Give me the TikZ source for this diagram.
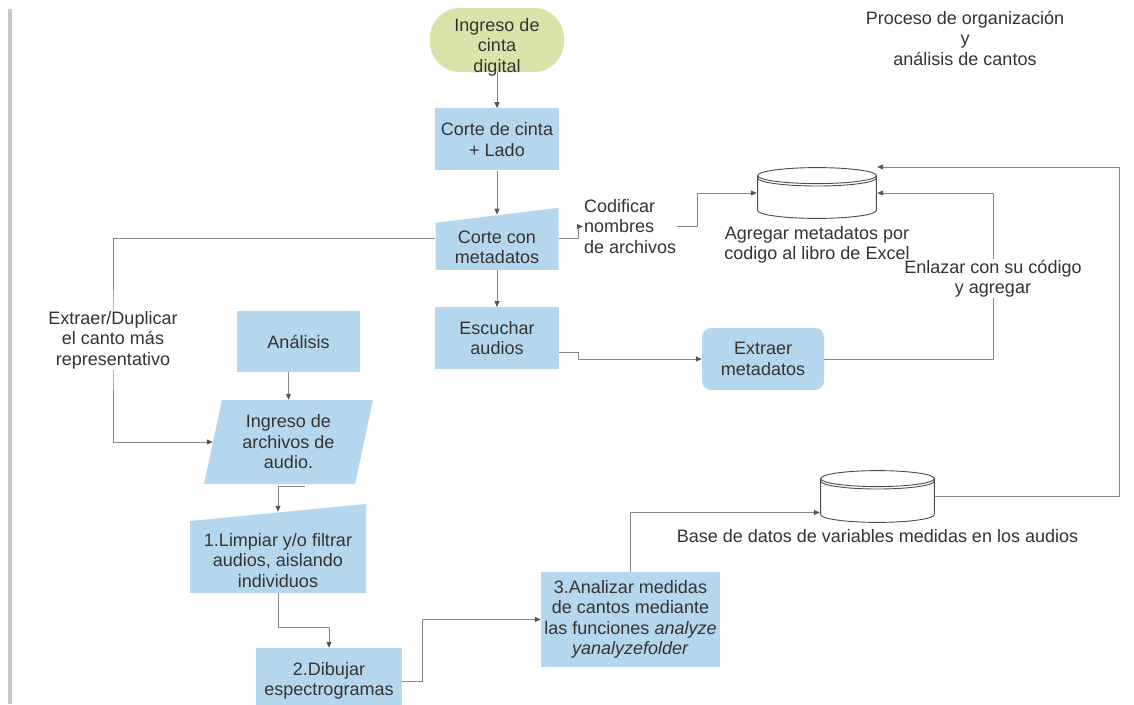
\documentclass[tikz,border=0pt]{standalone}
\usepackage{fontspec}
\setmainfont{Liberation Sans}
\setsansfont{Liberation Sans}
\usetikzlibrary{positioning, arrows.meta, backgrounds}

\definecolor{boxblue}{RGB}{180,215,238}
\definecolor{startgreen}{RGB}{217,228,170}
\definecolor{textgray}{RGB}{55,50,50}
\definecolor{linegray}{RGB}{135,135,135}
\definecolor{tipgray}{RGB}{85,85,85}
\definecolor{bargray}{RGB}{200,200,200}

\begin{document}
\begin{tikzpicture}[
  x=1pt, y=-1pt,
  font=\sffamily\fontsize{18}{20.5}\selectfont,
  text=textgray,
  box/.style={fill=boxblue, minimum width=123pt, minimum height=62pt, align=center, inner sep=0pt},
  startbox/.style={box, fill=startgreen, minimum width=134pt, minimum height=64pt, rounded corners=30pt},
  manualin/.style={box, fill=none, path picture={
    \fill[boxblue] (path picture bounding box.south west) -- (path picture bounding box.south east)
      -- (path picture bounding box.north east) -- ([yshift=-#1]path picture bounding box.north west) -- cycle;}},
  datain/.style={box, fill=none, path picture={
    \fill[boxblue] (path picture bounding box.south west) -- ([xshift=-#1]path picture bounding box.south east)
      -- (path picture bounding box.north east) -- ([xshift=#1]path picture bounding box.north west) -- cycle;}},
  dbline/.style={draw=black!70, line width=0.9pt},
  database/.style={minimum width=#1, minimum height=52pt, inner sep=0pt, path picture={
    \draw[dbline, fill=white] ([shift={(0.6pt,-8.6pt)}]path picture bounding box.north west)
      -- ([shift={(0.6pt,8.6pt)}]path picture bounding box.south west)
      arc[start angle=180, end angle=360, x radius=0.5*#1-0.6pt, y radius=8pt]
      -- ([shift={(-0.6pt,-8.6pt)}]path picture bounding box.north east)
      arc[start angle=0, end angle=180, x radius=0.5*#1-0.6pt, y radius=8pt] -- cycle;
    \draw[dbline] ([shift={(0.6pt,-8.6pt)}]path picture bounding box.north west)
      arc[start angle=180, end angle=360, x radius=0.5*#1-0.6pt, y radius=8pt];
    \draw[dbline] ([shift={(0.6pt,-11pt)}]path picture bounding box.north west)
      arc[start angle=180, end angle=360, x radius=0.5*#1-0.6pt, y radius=8pt];}},
  note/.style={align=center, inner sep=1pt, fill=white},
  line/.style={draw=linegray, line width=1pt},
  arrow/.style={line, -{Triangle[length=6pt, width=5pt, color=tipgray]}}
]
\useasboundingbox (0,0) rectangle (1134,704);

% Margin bar
\fill[bargray] (8,9) rectangle (12,704);

% Title
\node[align=center] (titulo) at (965,38) {Proceso de organización\\y\\análisis de cantos};

% Cinta
\node[startbox, text height=64pt, text depth=0pt] (start) at (497,40) {Ingreso de\\cinta\\digital};
\node[box, minimum width=124pt, below=36pt of start] (corte) {Corte de cinta\\+ Lado};
\node[manualin=15pt, text height=50pt, below=37pt of corte] (cortemeta) {Corte con\\metadatos};
\node[box, minimum width=124pt, below=37pt of cortemeta] (escuchar) {Escuchar\\audios};
\node[box, rounded corners=9pt, minimum width=122pt] (extraer) at (763,359) {Extraer\\metadatos};

% Bases de datos
\node[database=120pt] (db1) at (817,193) {};
\node[database=115pt, minimum height=53pt] (db2) at (877.5,496.5) {};
\node[note, below=6pt of db1] (dblbl1) {Agregar metadatos por\\codigo al libro de Excel};
\node[note, below=5.5pt of db2] (dblbl2) {Base de datos de variables medidas en los audios};

% Analisis
\node[box, minimum height=61pt] (analisis) at (298.5,341.5) {Análisis};
\node[datain=18pt, minimum width=169pt, minimum height=84pt] (archivos) at (288.5,442) {Ingreso de\\archivos de\\audio.};
\node[manualin=17pt, text height=78pt, minimum width=176pt, minimum height=89pt] (limpiar) at (278,548.5) {1.Limpiar y/o filtrar\\audios, aislando\\individuos};
\node[box, minimum width=146pt, minimum height=66pt] (dibujar) at (329,681) {2.Dibujar\\espectrogramas};
\node[box, minimum width=179pt, minimum height=95pt] (analizar) at (630.5,619.5) {3.Analizar medidas\\de cantos mediante\\las funciones \textit{analyze}\\\textit{yanalyzefolder}};

% Etiquetas
\node[note, align=left, anchor=west] (codif) at (583,226.5) {Codificar\\nombres\\de archivos};
\node[note] (dup) at (113,340) {Extraer/Duplicar\\el canto más\\representativo};
\node[note] (enlazar) at (993,278.5) {Enlazar con su código\\y agregar};

% Conectores
\begin{scope}[on background layer]
\draw[arrow] (start) -- (corte);
\draw[arrow] (corte) -- ([yshift=-7pt]cortemeta.north);
\draw[arrow] (cortemeta) -- (escuchar);
\draw[arrow] (cortemeta.west) -| (dup.center) |- ([xshift=9pt]archivos.west);
\draw[arrow] (cortemeta.east) -- ++(20,0) |- (codif.west);
\draw[arrow] (codif.east) -- ++(20,0) |- (db1.west);
\draw[arrow] ([yshift=-14pt]escuchar.east) -- ++(19,0) |- (extraer.west);
\draw[arrow] (extraer.east) -| (enlazar.center) |- (db1.east);
\draw[arrow] (analisis.south -| archivos.north) -- (archivos.north);
\draw[arrow] ([xshift=16pt, yshift=-2pt]archivos.south) -| ([yshift=-8pt]limpiar.north);
\draw[arrow] (limpiar.south) -- ++(0,34) -| (dibujar.north);
\draw[arrow] (dibujar.east) -- ++(20,0) |- (analizar.west);
\draw[arrow] (analizar.north) |- ([yshift=-16pt]db2.west);
\draw[arrow] (db2.east) -- ++(184,0) |- ([yshift=26pt]db1.east);
\end{scope}

\end{tikzpicture}
\end{document}
